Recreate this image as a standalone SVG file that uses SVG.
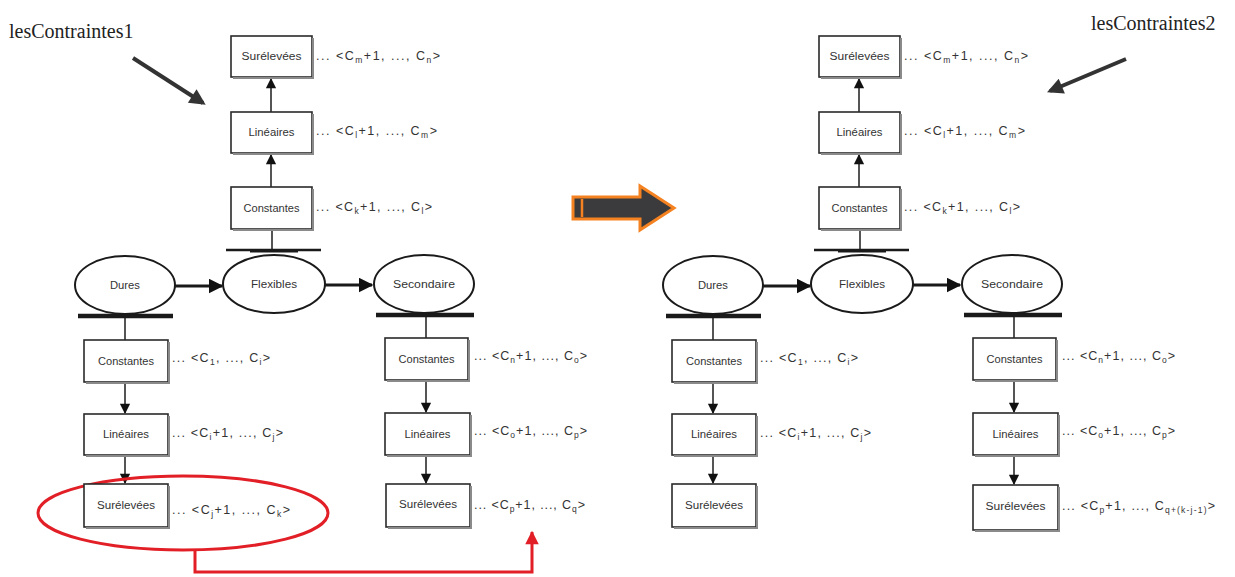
<svg xmlns="http://www.w3.org/2000/svg" width="1235" height="577" viewBox="0 0 1235 577">
  <style>
    .bg { fill: #ffffff; }
    .box rect { fill: #ffffff; stroke: #2a2a2a; stroke-width: 1.6; }
    .box .shade { fill: none; stroke: #8a8a8a; stroke-width: 2; }
    .box text, .ell text { font-family: "Liberation Sans", Arial, sans-serif; font-size: 10px; fill: #333; text-anchor: middle; }
    .ell ellipse { fill: #ffffff; stroke: #1a1a1a; stroke-width: 2; }
    .lbl { font-family: "Liberation Sans", Arial, sans-serif; font-size: 12.5px; fill: #333; }
    .lbl .sub { font-size: 8.5px; }
    .title { font-family: "Liberation Serif", "Times New Roman", serif; font-size: 20px; fill: #222; }
    .link { fill: none; stroke: #555; stroke-width: 2; }
    .flow { fill: none; stroke: #1a1a1a; stroke-width: 3; }
    .base { fill: none; stroke: #1a1a1a; stroke-linecap: butt; }
    .pointer { fill: none; stroke: #333; stroke-width: 4; }
    .red { fill: none; stroke: #e21f26; stroke-width: 3; }
  </style>
  <defs>
    <marker id="tri" viewBox="0 0 10 10" refX="9" refY="5" markerWidth="5" markerHeight="5" orient="auto" markerUnits="strokeWidth">
      <path d="M0,0 L10,5 L0,10 Z" fill="#111"/>
    </marker>
    <marker id="triS" viewBox="0 0 10 10" refX="9" refY="5" markerWidth="5.5" markerHeight="5.2" orient="auto" markerUnits="strokeWidth">
      <path d="M0,0 L10,5 L0,10 Z" fill="#111"/>
    </marker>
    <marker id="triP" viewBox="0 0 10 10" refX="8" refY="5" markerWidth="4.5" markerHeight="4" orient="auto" markerUnits="strokeWidth">
      <path d="M0,0 L10,5 L0,10 Z" fill="#333"/>
    </marker>
    <marker id="triR" viewBox="0 0 10 10" refX="9" refY="5" markerWidth="5" markerHeight="4.5" orient="auto" markerUnits="strokeWidth">
      <path d="M0,0 L10,5 L0,10 Z" fill="#e21f26"/>
    </marker>
  </defs>

  <rect class="bg" x="0" y="0" width="1235" height="577"/>

  <!-- ===================== left state: lesContraintes1 ===================== -->
  <g id="title1">
    <text class="title" x="9" y="38">lesContraintes1</text>
    <line class="pointer" x1="133" y1="58" x2="203" y2="103" marker-end="url(#triP)"/>
  </g>

  <g id="connectors1">
    <!-- flexible hierarchy, upward -->
    <line class="link" x1="271" y1="112" x2="271" y2="79" marker-end="url(#triS)"/>
    <line class="link" x1="271" y1="187" x2="271" y2="155" marker-end="url(#triS)"/>
    <line class="link" x1="272" y1="229" x2="272" y2="249"/>
    <!-- hard hierarchy, downward -->
    <line class="link" x1="125" y1="318" x2="125" y2="340"/>
    <line class="link" x1="125" y1="382" x2="125" y2="413" marker-end="url(#triS)"/>
    <line class="link" x1="125" y1="455" x2="125" y2="483" marker-end="url(#triS)"/>
    <!-- secondary hierarchy, downward -->
    <line class="link" x1="426" y1="316" x2="426" y2="338"/>
    <line class="link" x1="426" y1="380" x2="426" y2="412" marker-end="url(#triS)"/>
    <line class="link" x1="426" y1="455" x2="426" y2="483" marker-end="url(#triS)"/>
    <!-- priority chain -->
    <line class="flow" x1="175" y1="286" x2="222" y2="286" marker-end="url(#tri)"/>
    <line class="flow" x1="325" y1="285" x2="372" y2="285" marker-end="url(#tri)"/>
    <!-- pedestals -->
    <line class="base" x1="226" y1="250" x2="321" y2="250" stroke-width="2.5"/>
    <line class="base" x1="250" y1="251" x2="298" y2="251" stroke-width="3"/>
    <line class="base" x1="78" y1="316" x2="173" y2="316" stroke-width="4.5"/>
    <line class="base" x1="376" y1="315" x2="474" y2="315" stroke-width="4.5"/>
    <!-- moved block -->
    <ellipse class="red" cx="183" cy="513" rx="145" ry="37"/>
    <polyline class="red" points="195,549 195,572 532,572 532,532" marker-end="url(#triR)"/>
  </g>

  <g id="l-surelevees-f" class="box">
    <rect x="231" y="36" width="81" height="41"/>
    <polyline class="shade" points="313,38 313,78 233,78"/>
    <text x="271.5" y="60" textLength="60" lengthAdjust="spacingAndGlyphs">Surélevées</text>
  </g>
  <text class="lbl" x="316" y="60" textLength="124" lengthAdjust="spacing">... &lt;C<tspan class="sub" dy="3">m</tspan><tspan dy="-3">+1, ..., C</tspan><tspan class="sub" dy="3">n</tspan><tspan dy="-3">&gt;</tspan></text>

  <g id="l-lineaires-f" class="box">
    <rect x="231" y="112" width="81" height="41"/>
    <polyline class="shade" points="313,114 313,154 233,154"/>
    <text x="271.5" y="136" textLength="46" lengthAdjust="spacingAndGlyphs">Linéaires</text>
  </g>
  <text class="lbl" x="316" y="135" textLength="121" lengthAdjust="spacing">... &lt;C<tspan class="sub" dy="3">l</tspan><tspan dy="-3">+1, ..., C</tspan><tspan class="sub" dy="3">m</tspan><tspan dy="-3">&gt;</tspan></text>

  <g id="l-constantes-f" class="box">
    <rect x="231" y="187" width="81" height="42"/>
    <polyline class="shade" points="313,189 313,230 233,230"/>
    <text x="271.5" y="212" textLength="56" lengthAdjust="spacingAndGlyphs">Constantes</text>
  </g>
  <text class="lbl" x="316" y="211" textLength="116" lengthAdjust="spacing">... &lt;C<tspan class="sub" dy="3">k</tspan><tspan dy="-3">+1, ..., C</tspan><tspan class="sub" dy="3">l</tspan><tspan dy="-3">&gt;</tspan></text>

  <g id="l-dures" class="ell">
    <ellipse cx="125" cy="285" rx="50" ry="29"/>
    <text x="125" y="289" textLength="30" lengthAdjust="spacingAndGlyphs">Dures</text>
  </g>
  <g id="l-flexibles" class="ell">
    <ellipse cx="274" cy="284" rx="51" ry="29"/>
    <text x="274" y="288" textLength="46" lengthAdjust="spacingAndGlyphs">Flexibles</text>
  </g>
  <g id="l-secondaire" class="ell">
    <ellipse cx="424" cy="284" rx="50" ry="29"/>
    <text x="424" y="288" textLength="62" lengthAdjust="spacingAndGlyphs">Secondaire</text>
  </g>

  <g id="l-constantes-d" class="box">
    <rect x="84" y="340" width="84" height="42"/>
    <polyline class="shade" points="169,342 169,383 86,383"/>
    <text x="126" y="365" textLength="56" lengthAdjust="spacingAndGlyphs">Constantes</text>
  </g>
  <text class="lbl" x="172" y="362" textLength="98" lengthAdjust="spacing">... &lt;C<tspan class="sub" dy="3">1</tspan><tspan dy="-3">, ..., C</tspan><tspan class="sub" dy="3">i</tspan><tspan dy="-3">&gt;</tspan></text>

  <g id="l-lineaires-d" class="box">
    <rect x="84" y="414" width="84" height="41"/>
    <polyline class="shade" points="169,416 169,456 86,456"/>
    <text x="126" y="438" textLength="46" lengthAdjust="spacingAndGlyphs">Linéaires</text>
  </g>
  <text class="lbl" x="172" y="437" textLength="111" lengthAdjust="spacing">... &lt;C<tspan class="sub" dy="3">i</tspan><tspan dy="-3">+1, ..., C</tspan><tspan class="sub" dy="3">j</tspan><tspan dy="-3">&gt;</tspan></text>

  <g id="l-surelevees-d" class="box">
    <rect x="84" y="484" width="84" height="43"/>
    <polyline class="shade" points="169,486 169,528 86,528"/>
    <text x="126" y="509" textLength="58" lengthAdjust="spacingAndGlyphs">Surélevées</text>
  </g>
  <text class="lbl" x="172" y="514" textLength="118" lengthAdjust="spacing">... &lt;C<tspan class="sub" dy="3">j</tspan><tspan dy="-3">+1, ..., C</tspan><tspan class="sub" dy="3">k</tspan><tspan dy="-3">&gt;</tspan></text>

  <g id="l-constantes-s" class="box">
    <rect x="385" y="338" width="83" height="42"/>
    <polyline class="shade" points="469,340 469,381 387,381"/>
    <text x="426.5" y="363" textLength="56" lengthAdjust="spacingAndGlyphs">Constantes</text>
  </g>
  <text class="lbl" x="474" y="360" textLength="113" lengthAdjust="spacing">... &lt;C<tspan class="sub" dy="3">n</tspan><tspan dy="-3">+1, ..., C</tspan><tspan class="sub" dy="3">o</tspan><tspan dy="-3">&gt;</tspan></text>

  <g id="l-lineaires-s" class="box">
    <rect x="385" y="413" width="85" height="42"/>
    <polyline class="shade" points="471,415 471,456 387,456"/>
    <text x="427.5" y="438" textLength="46" lengthAdjust="spacingAndGlyphs">Linéaires</text>
  </g>
  <text class="lbl" x="474" y="435" textLength="113" lengthAdjust="spacing">... &lt;C<tspan class="sub" dy="3">o</tspan><tspan dy="-3">+1, ..., C</tspan><tspan class="sub" dy="3">p</tspan><tspan dy="-3">&gt;</tspan></text>

  <g id="l-surelevees-s" class="box">
    <rect x="386" y="484" width="84" height="43"/>
    <polyline class="shade" points="471,486 471,528 388,528"/>
    <text x="428" y="508" textLength="58" lengthAdjust="spacingAndGlyphs">Surélevées</text>
  </g>
  <text class="lbl" x="474" y="509" textLength="111" lengthAdjust="spacing">... &lt;C<tspan class="sub" dy="3">p</tspan><tspan dy="-3">+1, ..., C</tspan><tspan class="sub" dy="3">q</tspan><tspan dy="-3">&gt;</tspan></text>

  <!-- transition arrow -->
  <g id="transition">
    <path d="M573,197 L640,197 L640,186 L674,208 L640,230 L640,219 L573,219 Z" fill="#3b3a3c" stroke="#f58220" stroke-width="3" stroke-linejoin="miter"/>
    <line x1="582" y1="199" x2="582" y2="217" stroke="#f58220" stroke-width="2.5"/>
  </g>

  <!-- ===================== right state: lesContraintes2 ===================== -->
  <g id="title2">
    <text class="title" x="1091" y="30">lesContraintes2</text>
    <line class="pointer" x1="1126" y1="59" x2="1050" y2="91" marker-end="url(#triP)"/>
  </g>

  <g id="connectors2">
    <line class="link" x1="859" y1="112" x2="859" y2="79" marker-end="url(#triS)"/>
    <line class="link" x1="859" y1="187" x2="859" y2="155" marker-end="url(#triS)"/>
    <line class="link" x1="860" y1="229" x2="860" y2="249"/>
    <line class="link" x1="713" y1="318" x2="713" y2="340"/>
    <line class="link" x1="713" y1="382" x2="713" y2="413" marker-end="url(#triS)"/>
    <line class="link" x1="713" y1="455" x2="713" y2="483" marker-end="url(#triS)"/>
    <line class="link" x1="1014" y1="316" x2="1014" y2="338"/>
    <line class="link" x1="1014" y1="380" x2="1014" y2="412" marker-end="url(#triS)"/>
    <line class="link" x1="1014" y1="455" x2="1014" y2="484" marker-end="url(#triS)"/>
    <line class="flow" x1="763" y1="286" x2="810" y2="286" marker-end="url(#tri)"/>
    <line class="flow" x1="913" y1="285" x2="960" y2="285" marker-end="url(#tri)"/>
    <line class="base" x1="814" y1="250" x2="909" y2="250" stroke-width="2.5"/>
    <line class="base" x1="838" y1="251" x2="886" y2="251" stroke-width="3"/>
    <line class="base" x1="666" y1="316" x2="761" y2="316" stroke-width="4.5"/>
    <line class="base" x1="964" y1="315" x2="1062" y2="315" stroke-width="4.5"/>
  </g>

  <g id="r-surelevees-f" class="box">
    <rect x="819" y="36" width="81" height="41"/>
    <polyline class="shade" points="901,38 901,78 821,78"/>
    <text x="859.5" y="60" textLength="60" lengthAdjust="spacingAndGlyphs">Surélevées</text>
  </g>
  <text class="lbl" x="904" y="60" textLength="124" lengthAdjust="spacing">... &lt;C<tspan class="sub" dy="3">m</tspan><tspan dy="-3">+1, ..., C</tspan><tspan class="sub" dy="3">n</tspan><tspan dy="-3">&gt;</tspan></text>

  <g id="r-lineaires-f" class="box">
    <rect x="819" y="112" width="81" height="41"/>
    <polyline class="shade" points="901,114 901,154 821,154"/>
    <text x="859.5" y="136" textLength="46" lengthAdjust="spacingAndGlyphs">Linéaires</text>
  </g>
  <text class="lbl" x="904" y="135" textLength="121" lengthAdjust="spacing">... &lt;C<tspan class="sub" dy="3">l</tspan><tspan dy="-3">+1, ..., C</tspan><tspan class="sub" dy="3">m</tspan><tspan dy="-3">&gt;</tspan></text>

  <g id="r-constantes-f" class="box">
    <rect x="819" y="187" width="81" height="42"/>
    <polyline class="shade" points="901,189 901,230 821,230"/>
    <text x="859.5" y="212" textLength="56" lengthAdjust="spacingAndGlyphs">Constantes</text>
  </g>
  <text class="lbl" x="904" y="211" textLength="116" lengthAdjust="spacing">... &lt;C<tspan class="sub" dy="3">k</tspan><tspan dy="-3">+1, ..., C</tspan><tspan class="sub" dy="3">l</tspan><tspan dy="-3">&gt;</tspan></text>

  <g id="r-dures" class="ell">
    <ellipse cx="713" cy="285" rx="50" ry="29"/>
    <text x="713" y="289" textLength="30" lengthAdjust="spacingAndGlyphs">Dures</text>
  </g>
  <g id="r-flexibles" class="ell">
    <ellipse cx="862" cy="284" rx="51" ry="29"/>
    <text x="862" y="288" textLength="46" lengthAdjust="spacingAndGlyphs">Flexibles</text>
  </g>
  <g id="r-secondaire" class="ell">
    <ellipse cx="1012" cy="284" rx="50" ry="29"/>
    <text x="1012" y="288" textLength="62" lengthAdjust="spacingAndGlyphs">Secondaire</text>
  </g>

  <g id="r-constantes-d" class="box">
    <rect x="672" y="340" width="84" height="42"/>
    <polyline class="shade" points="757,342 757,383 674,383"/>
    <text x="714" y="365" textLength="56" lengthAdjust="spacingAndGlyphs">Constantes</text>
  </g>
  <text class="lbl" x="760" y="362" textLength="98" lengthAdjust="spacing">... &lt;C<tspan class="sub" dy="3">1</tspan><tspan dy="-3">, ..., C</tspan><tspan class="sub" dy="3">i</tspan><tspan dy="-3">&gt;</tspan></text>

  <g id="r-lineaires-d" class="box">
    <rect x="672" y="414" width="84" height="41"/>
    <polyline class="shade" points="757,416 757,456 674,456"/>
    <text x="714" y="438" textLength="46" lengthAdjust="spacingAndGlyphs">Linéaires</text>
  </g>
  <text class="lbl" x="760" y="437" textLength="111" lengthAdjust="spacing">... &lt;C<tspan class="sub" dy="3">i</tspan><tspan dy="-3">+1, ..., C</tspan><tspan class="sub" dy="3">j</tspan><tspan dy="-3">&gt;</tspan></text>

  <g id="r-surelevees-d" class="box">
    <rect x="672" y="484" width="84" height="43"/>
    <polyline class="shade" points="757,486 757,528 674,528"/>
    <text x="714" y="509" textLength="58" lengthAdjust="spacingAndGlyphs">Surélevées</text>
  </g>

  <g id="r-constantes-s" class="box">
    <rect x="973" y="338" width="83" height="42"/>
    <polyline class="shade" points="1057,340 1057,381 975,381"/>
    <text x="1014.5" y="363" textLength="56" lengthAdjust="spacingAndGlyphs">Constantes</text>
  </g>
  <text class="lbl" x="1062" y="360" textLength="113" lengthAdjust="spacing">... &lt;C<tspan class="sub" dy="3">n</tspan><tspan dy="-3">+1, ..., C</tspan><tspan class="sub" dy="3">o</tspan><tspan dy="-3">&gt;</tspan></text>

  <g id="r-lineaires-s" class="box">
    <rect x="973" y="413" width="85" height="42"/>
    <polyline class="shade" points="1059,415 1059,456 975,456"/>
    <text x="1015.5" y="438" textLength="46" lengthAdjust="spacingAndGlyphs">Linéaires</text>
  </g>
  <text class="lbl" x="1062" y="435" textLength="113" lengthAdjust="spacing">... &lt;C<tspan class="sub" dy="3">o</tspan><tspan dy="-3">+1, ..., C</tspan><tspan class="sub" dy="3">p</tspan><tspan dy="-3">&gt;</tspan></text>

  <g id="r-surelevees-s" class="box">
    <rect x="973" y="485" width="85" height="45"/>
    <polyline class="shade" points="1059,487 1059,531 975,531"/>
    <text x="1015.5" y="510" textLength="60" lengthAdjust="spacingAndGlyphs">Surélevées</text>
  </g>
  <text class="lbl" x="1062" y="510" textLength="153" lengthAdjust="spacing">... &lt;C<tspan class="sub" dy="3">p</tspan><tspan dy="-3">+1, ..., C</tspan><tspan class="sub" dy="3">q+(k-j-1)</tspan><tspan dy="-3">&gt;</tspan></text>
</svg>
